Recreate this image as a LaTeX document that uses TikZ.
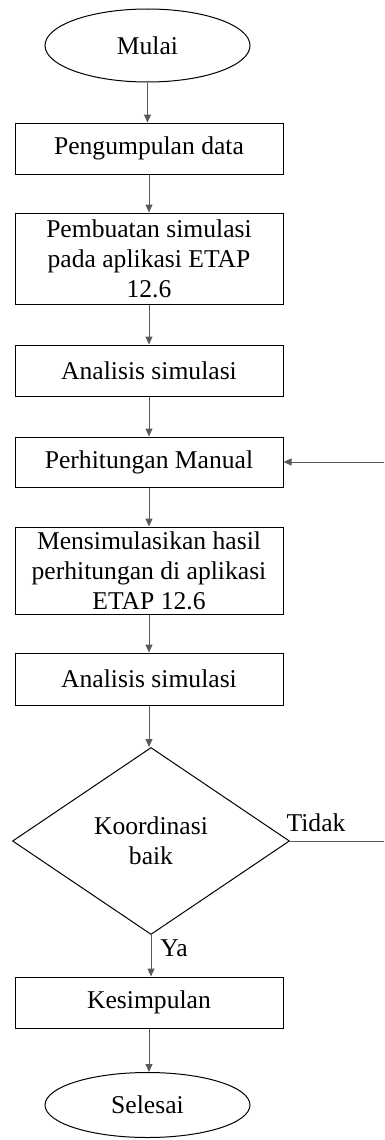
\documentclass[tikz,border=0pt]{standalone}
\usepackage{fontspec}
\setmainfont{Liberation Serif}
\usetikzlibrary{shapes.geometric, arrows.meta}

\tikzset{
	kotak/.style={draw, line width=1pt, minimum width=268pt, inner sep=0pt, align=center},
	oval/.style={draw, ellipse, line width=1pt, minimum width=205pt, inner sep=0pt},
	belah/.style={draw, diamond, line width=1pt, aspect=1.48, minimum width=277pt, minimum height=187pt, inner sep=0pt, align=center},
	panah/.style={line width=1pt, black!65, -{Triangle[length=8pt,width=7pt]}},
	garis/.style={line width=1pt, black!65}
}

\begin{document}
\begin{tikzpicture}[x=1pt, y=-1pt, font=\fontsize{25.6}{30}\selectfont]
	\useasboundingbox (0,0) rectangle (384,1140);
	
	%start
	\node[oval, minimum height=73pt] (mulai) at (147.5,45.5) {Mulai};
	
	%process boxes
	\node[kotak, minimum height=51pt] (kumpul) at (149,148.5) {Pengumpulan data};
	\node[kotak, minimum height=91pt] (buat) at (149,258.5) {Pembuatan simulasi\\pada aplikasi ETAP\\12.6};
	\node[kotak, minimum height=51pt] (analisa1) at (149,370.5) {Analisis simulasi};
	\node[kotak, minimum height=50pt] (hitung) at (149,462) {Perhitungan Manual};
	\node[kotak, minimum height=87pt] (simulasi) at (149,570.5) {Mensimulasikan hasil\\perhitungan di aplikasi\\ETAP 12.6};
	\node[kotak, minimum height=52pt] (analisa2) at (149,679) {Analisis simulasi};
	
	%decision
	\node[belah] (koordinasi) at (151,841) {Koordinasi\\baik};
		\node (tidak) at (316,823) {Tidak};
		\node (ya) at (174,948) {Ya};
	
	%end
	\node[kotak, minimum height=51pt] (simpul) at (149,1002.5) {Kesimpulan};
	\node[oval, minimum height=65pt] (selesai) at (147.5,1105) {Selesai};
	
	%right edge (loop back)
	\coordinate (kanan1) at (384,841);
	\coordinate (kanan2) at (384,462);
	
	%connectors
	\draw[panah] (mulai) -- (mulai |- kumpul.north);
	\draw[panah] (kumpul) -- (buat);
	\draw[panah] (buat) -- (analisa1);
	\draw[panah] (analisa1) -- (hitung);
	\draw[panah] (hitung) -- (simulasi);
	\draw[panah] (simulasi) -- (analisa2);
	\draw[panah] (analisa2.south) -- (analisa2.south |- koordinasi.north);
	\draw[panah] (koordinasi.south) -- (koordinasi.south |- simpul.north);
	\draw[panah] (simpul.south) -- (simpul.south |- selesai.north);
	
	%Tidak: back to Perhitungan Manual
	\draw[garis] (koordinasi.east) -- (kanan1);
	\draw[panah] (kanan2) -- (hitung.east);
\end{tikzpicture}
\end{document}
